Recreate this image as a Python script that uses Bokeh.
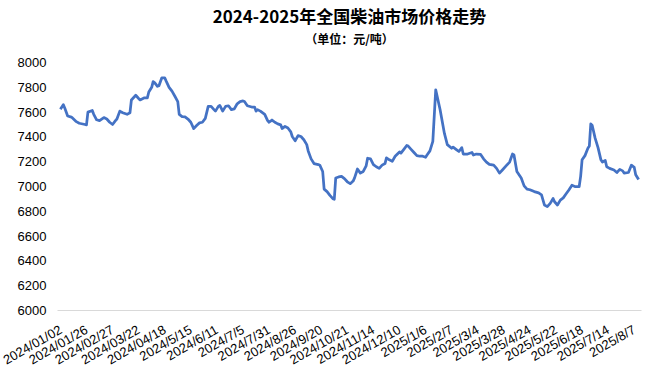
from bokeh.plotting import figure
from bokeh.models import Range1d, FixedTicker, Title
from bokeh.embed import file_html
from bokeh.resources import INLINE

# ---- data (trading-day index, price in 元/吨) ----
day_index = [0, 2, 3, 5, 7, 8, 11, 13, 17, 18, 19, 22, 23, 25, 27, 30, 32, 34, 36, 38,
             39, 41, 43, 46, 48, 49, 52, 54, 55, 58, 60, 61, 63, 64, 65, 67, 68, 70, 72, 73,
             75, 77, 79, 81, 82, 84, 86, 88, 90, 92, 94, 96, 98, 100, 102, 104, 106, 107, 109, 110,
             112, 114, 116, 118, 120, 122, 124, 126, 127, 129, 132, 134, 135, 136, 138, 141, 143, 144, 146, 148,
             150, 152, 153, 155, 157, 159, 160, 162, 164, 166, 168, 170, 171, 173, 175, 178, 179, 181, 182, 184,
             186, 188, 189, 190, 192, 194, 196, 198, 200, 202, 203, 205, 207, 209, 211, 212, 214, 216, 218, 220,
             222, 224, 225, 227, 229, 231, 234, 235, 237, 239, 240, 242, 244, 246, 248, 250, 252, 253, 255, 257,
             259, 262, 263, 265, 267, 270, 271, 273, 275, 277, 278, 281, 284, 285, 287, 290, 292, 294, 296, 299,
             301, 303, 305, 308, 310, 312, 313, 315, 318, 320, 322, 324, 327, 330, 332, 334, 336, 338, 340, 341,
             343, 345, 347, 349, 351, 353, 355, 358, 359, 360, 362, 364, 365, 366, 367, 369, 371, 373, 374, 376,
             377, 379, 382, 384, 386, 388, 389, 392, 394, 396, 397, 399]
price = [7623, 7660, 7633, 7569, 7562, 7556, 7523, 7510, 7500, 7497, 7600, 7613, 7582, 7538, 7531, 7556, 7544, 7518, 7500, 7531,
         7544, 7608, 7595, 7582, 7595, 7698, 7736, 7710, 7698, 7715, 7715, 7762, 7800, 7846, 7838, 7808, 7813, 7877, 7877, 7850,
         7800, 7769, 7728, 7685, 7582, 7564, 7562, 7544, 7518, 7467, 7492, 7513, 7518, 7549, 7646, 7646, 7620, 7608, 7646, 7654,
         7608, 7646, 7651, 7620, 7626, 7667, 7685, 7690, 7685, 7651, 7641, 7641, 7608, 7620, 7608, 7582, 7531, 7518, 7536, 7518,
         7505, 7497, 7467, 7485, 7472, 7441, 7403, 7369, 7410, 7403, 7377, 7338, 7287, 7223, 7185, 7177, 7172, 7121, 6979, 6959,
         6928, 6902, 6897, 7069, 7077, 7082, 7064, 7038, 7023, 7044, 7069, 7141, 7108, 7121, 7167, 7228, 7223, 7177, 7159, 7146,
         7172, 7185, 7231, 7215, 7203, 7244, 7279, 7269, 7300, 7331, 7326, 7300, 7274, 7249, 7244, 7244, 7236, 7254, 7287, 7364,
         7779, 7621, 7556, 7428, 7338, 7308, 7318, 7300, 7282, 7313, 7262, 7262, 7274, 7254, 7262, 7259, 7223, 7197, 7179, 7172,
         7146, 7108, 7133, 7172, 7197, 7262, 7254, 7121, 7069, 7005, 6979, 6974, 6959, 6949, 6933, 6851, 6838, 6864, 6903, 6877,
         6851, 6890, 6908, 6941, 6974, 7010, 7000, 7000, 7082, 7215, 7249, 7308, 7326, 7505, 7492, 7390, 7313, 7215, 7197, 7210,
         7159, 7146, 7133, 7113, 7138, 7126, 7108, 7113, 7172, 7154, 7095, 7056]

tick_index = [0, 18, 36, 54, 72, 90, 108, 126, 144, 162, 180, 198, 216, 234, 252, 270,
              288, 306, 324, 342, 360, 378, 396]
tick_labels = ["2024/01/02", "2024/01/26", "2024/02/27", "2024/03/22", "2024/04/18",
               "2024/5/15", "2024/6/11", "2024/7/5", "2024/7/31", "2024/8/26", "2024/9/20",
               "2024/10/21", "2024/11/14", "2024/12/10", "2025/1/6", "2025/2/7", "2025/3/4",
               "2025/3/28", "2025/4/24", "2025/5/22", "2025/6/18", "2025/7/14", "2025/8/7"]
y_ticks = [6000, 6200, 6400, 6600, 6800, 7000, 7200, 7400, 7600, 7800, 8000]

title_text = "2024-2025年全国柴油市场价格走势"
subtitle_text = "（单位：元/吨）"

p = figure(width=643, height=376, output_backend="svg", toolbar_location=None,
           x_range=Range1d(-2, 401), y_range=Range1d(6000, 8000),
           min_border_left=57, min_border_right=2, min_border_top=10, min_border_bottom=60)

# spacer between the subtitle and the plotting area
p.add_layout(Title(text=" ", text_font_size="12px", standoff=0), "above")
p.add_layout(Title(text=subtitle_text, align="center", text_font="Noto Sans CJK SC",
                   text_font_size="12px", text_font_style="bold", text_color="#000000",
                   standoff=0), "above")
p.add_layout(Title(text=title_text, align="center", text_font="Noto Sans CJK SC",
                   text_font_size="17px", text_font_style="bold", text_color="#000000",
                   standoff=0), "above")

p.line(day_index, price, line_color="#4472C4", line_width=2.75, line_join="round")

p.xgrid.visible = False
p.ygrid.visible = False
p.outline_line_color = None

p.yaxis.ticker = FixedTicker(ticks=y_ticks)
p.yaxis.axis_line_color = None
p.yaxis.major_tick_line_color = None
p.yaxis.minor_tick_line_color = None
p.yaxis.major_label_text_font = "Liberation Sans"
p.yaxis.major_label_text_font_size = "13px"
p.yaxis.major_label_text_color = "#000000"
p.yaxis.major_label_standoff = 5

p.xaxis.ticker = FixedTicker(ticks=tick_index)
p.xaxis.major_label_overrides = {i: s for i, s in zip(tick_index, tick_labels)}
p.xaxis.major_label_orientation = 0.52
p.xaxis.axis_line_color = "#d9d9d9"
p.xaxis.axis_line_width = 1
p.xaxis.major_tick_line_color = None
p.xaxis.minor_tick_line_color = None
p.xaxis.major_label_text_font = "Liberation Sans"
p.xaxis.major_label_text_font_size = "13px"
p.xaxis.major_label_text_color = "#000000"
p.xaxis.major_label_standoff = 12

open("out.html", "w").write(file_html(p, INLINE))
